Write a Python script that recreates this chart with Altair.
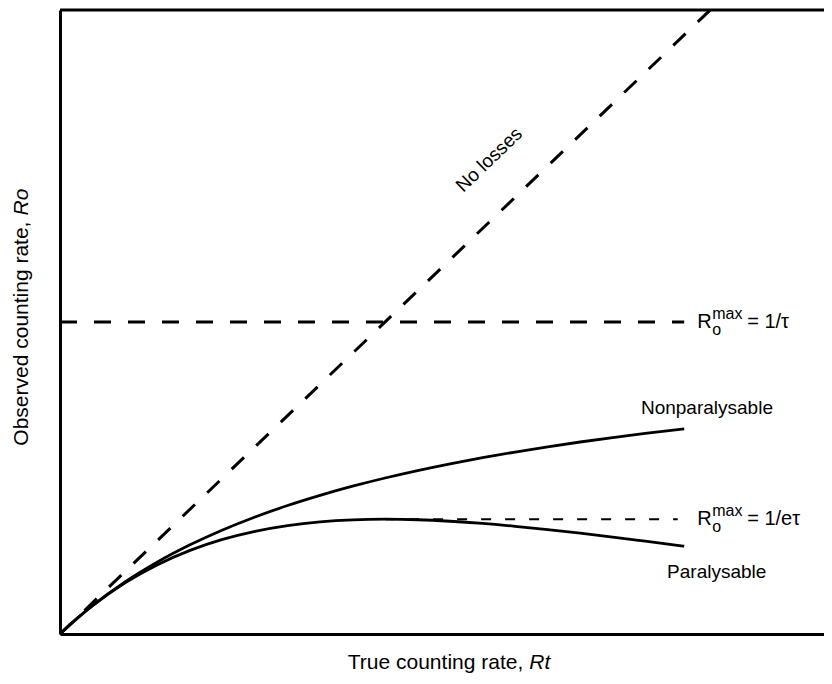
import altair as alt
import pandas as pd

# Rate in units of 1/tau
rt = [0, 0.05, 0.1, 0.2, 0.3, 0.4, 0.5, 0.6, 0.7, 0.8, 0.9, 1.0, 1.1, 1.2, 1.3, 1.4, 1.5, 1.6, 1.7, 1.8, 1.92]
nonpar = [0, 0.0476, 0.0909, 0.1667, 0.2308, 0.2857, 0.3333, 0.375, 0.4118, 0.4444, 0.4737, 0.5,
          0.5238, 0.5455, 0.5652, 0.5833, 0.6, 0.6154, 0.6296, 0.6429, 0.6575]
par = [0, 0.0476, 0.0905, 0.1637, 0.2222, 0.2681, 0.3033, 0.3293, 0.3476, 0.3595, 0.3659, 0.3679,
       0.3662, 0.3614, 0.3543, 0.3452, 0.3347, 0.3230, 0.3106, 0.2975, 0.2815]
noloss_x = [0, 2.0]
noloss_y = [0, 2.0]
max1_x = [0, 1.92]
max1_y = [1.0, 1.0]
max2_x = [1.0, 1.9]
max2_y = [0.368, 0.368]

XMAX = 2.35
YMAX = 2.0
FONT = "Liberation Sans"
FS = 19
TFS = 21

xs = alt.Scale(domain=[0, XMAX], nice=False, zero=False)
ys = alt.Scale(domain=[0, YMAX], nice=False, zero=False)

curves = pd.DataFrame({
    "x": rt * 2,
    "y": nonpar + par,
    "s": ["Nonparalysable"] * len(rt) + ["Paralysable"] * len(rt),
})

ax = dict(labels=False, ticks=False, grid=False, domain=True, domainWidth=3, domainColor="black")
base_x = alt.X("x:Q", scale=xs, title=None, axis=alt.Axis(**ax))
base_y = alt.Y("y:Q", scale=ys, title=None, axis=alt.Axis(**ax))

def X():
    return alt.X("x:Q", scale=xs)

def Y():
    return alt.Y("y:Q", scale=ys)

curve_layer = alt.Chart(curves).mark_line(color="black", strokeWidth=2.8, interpolate="monotone").encode(
    x=base_x, y=base_y, detail="s:N")

noloss = alt.Chart(pd.DataFrame({"x": noloss_x, "y": noloss_y})).mark_line(
    color="black", strokeWidth=3, strokeDash=[17, 17]).encode(x=X(), y=Y())

m1 = alt.Chart(pd.DataFrame({"x": max1_x, "y": max1_y})).mark_line(
    color="black", strokeWidth=3, strokeDash=[17, 17]).encode(x=X(), y=Y())

m2 = alt.Chart(pd.DataFrame({"x": max2_x, "y": max2_y})).mark_line(
    color="black", strokeWidth=2, strokeDash=[10, 14]).encode(x=X(), y=Y())

top = alt.Chart(pd.DataFrame({"x": [0], "x2": [XMAX], "y": [YMAX]})).mark_rule(
    color="black", strokeWidth=3).encode(x=X(), x2="x2:Q", y=Y())

labels = pd.DataFrame({
    "x": [1.32, 1.99, 2.02],
    "y": [1.52, 0.725, 0.20],
    "t": ["No losses", "Nonparalysable", "Paralysable"],
    "a": [316, 0, 0],
})
lab = alt.Chart(labels).mark_text(font=FONT, fontSize=FS, color="black", align="center", baseline="middle").encode(
    x=X(), y=Y(), text="t:N", angle=alt.Angle("a:Q", scale=None))

# axis titles (plain part + italic symbol)
xt = pd.DataFrame({"x": [1.425], "y": [-0.093], "a": ["True counting rate,"], "b": ["Rt"]})
xt1 = alt.Chart(xt).mark_text(font=FONT, fontSize=TFS, color="black", align="right", baseline="middle").encode(
    x=X(), y=Y(), text="a:N")
xt2 = alt.Chart(xt).mark_text(font=FONT, fontSize=TFS, color="black", align="left", baseline="middle",
                              fontStyle="italic", dx=6).encode(x=X(), y=Y(), text="b:N")
yt = pd.DataFrame({"x": [-0.117], "y": [1.322], "a": ["Observed counting rate,"], "b": ["Ro"]})
yt1 = alt.Chart(yt).mark_text(font=FONT, fontSize=TFS, color="black", align="right", baseline="middle",
                              angle=270).encode(x=X(), y=Y(), text="a:N")
yt2 = alt.Chart(yt).mark_text(font=FONT, fontSize=TFS, color="black", align="left", baseline="middle",
                              angle=270, fontStyle="italic", dx=6).encode(x=X(), y=Y(), text="b:N")

rm_x = [1.96, 1.96]
rm_y = [1.0, 0.368]
rm_rhs = ["= 1/τ", "= 1/eτ"]
rmdf = pd.DataFrame({"x": rm_x, "y": rm_y, "rhs": rm_rhs, "R": ["R", "R"], "mx": ["max", "max"], "o": ["o", "o"]})
rbase = alt.Chart(rmdf).encode(x=X(), y=Y())
r1 = rbase.mark_text(font=FONT, fontSize=20, color="black", align="left", baseline="middle").encode(text="R:N")
r2 = rbase.mark_text(font=FONT, fontSize=16, color="black", align="left", baseline="middle", dx=15, dy=-8).encode(text="mx:N")
r3 = rbase.mark_text(font=FONT, fontSize=16, color="black", align="left", baseline="middle", dx=15, dy=8).encode(text="o:N")
r4 = rbase.mark_text(font=FONT, fontSize=20, color="black", align="left", baseline="middle", dx=50).encode(text="rhs:N")

chart = alt.layer(curve_layer, noloss, m1, m2, top, lab, xt1, xt2, yt1, yt2, r1, r2, r3, r4).properties(
    width=764, height=624,
    autosize=alt.AutoSizeParams(type="none"),
    padding={"left": 52, "top": 2, "right": 0, "bottom": 40},
).configure_view(stroke=None).configure(background="white")

chart.save("out.html", embed_options={"renderer": "svg", "actions": False})
